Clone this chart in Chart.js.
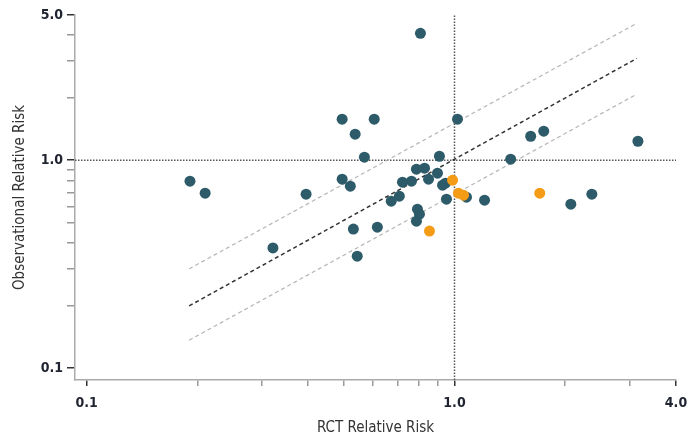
<!DOCTYPE html>
<html>
<head>
<meta charset="utf-8">
<script src="https://cdn.jsdelivr.net/npm/chart.js@4/dist/chart.umd.min.js"></script>
<style>
  html, body { margin: 0; padding: 0; background: #fff; }
</style>
</head>
<body>
<canvas id="riskChart" width="687" height="439"></canvas>
<script>
// RCT relative risk (x) vs observational relative risk (y)
const tealX = [0.191, 0.210, 0.321, 0.395, 0.495, 0.537, 0.605, 0.569, 0.495, 0.521,
               0.808, 1.019, 0.544, 0.531, 0.617, 0.673, 0.708, 0.722, 0.764, 0.788,
               0.829, 0.850, 0.899, 0.910, 0.793, 0.803, 0.788, 0.928, 0.945, 0.951,
               1.078, 1.207, 1.421, 1.611, 1.748, 2.071, 2.362, 3.152];
const tealY = [0.793, 0.694, 0.378, 0.686, 1.575, 1.334, 1.575, 1.034, 0.810, 0.750,
               4.08, 1.575, 0.345, 0.466, 0.476, 0.635, 0.671, 0.784, 0.793, 0.905,
               0.915, 0.810, 0.866, 1.045, 0.581, 0.550, 0.509, 0.758, 0.775, 0.649,
               0.664, 0.642, 1.011, 1.304, 1.379, 0.614, 0.686, 1.234];
const orangeX = [0.988, 1.025, 1.058, 0.855, 1.705];
const orangeY = [0.801, 0.694, 0.679, 0.456, 0.694];

// reference lines
const centerX = [0.19, 3.13];
const centerY = [0.199, 3.09];
const upperY = [0.30, 4.56];
const lowerY = [0.136, 2.08];

const xTicks = [0.1, 0.2, 0.3, 0.4, 0.5, 0.6, 0.7, 0.8, 0.9, 1, 2, 3, 4];
const yTicks = [0.1, 0.2, 0.3, 0.4, 0.5, 0.6, 0.7, 0.8, 0.9, 1, 2, 3, 4, 5];
const xLabels = {0.1: '0.1', 1: '1.0', 4: '4.0'};
const yLabels = {0.1: '0.1', 1: '1.0', 5: '5.0'};

const xMin = 0.093, xMax = 4.0, yMin = 0.0875, yMax = 5.0;

function pts(xs, ys) { return xs.map((x, i) => ({x: x, y: ys[i]})); }

const FONT = "'Liberation Sans Narrow', 'DejaVu Sans Condensed', 'Liberation Sans', sans-serif";

function lineSet(data, color, dash, width) {
  return {
    type: 'line', data: data, borderColor: color, borderDash: dash, borderWidth: width,
    pointRadius: 0, fill: false, showLine: true, order: 5
  };
}

const ctx = document.getElementById('riskChart').getContext('2d');
new Chart(ctx, {
  type: 'scatter',
  data: {
    datasets: [
      { data: pts(orangeX, orangeY), backgroundColor: '#f59c17', pointRadius: 5.5, borderWidth: 0, order: 0 },
      { data: pts(tealX, tealY), backgroundColor: '#2d5b69', pointRadius: 5.5, borderWidth: 0, order: 1 },
      lineSet(pts(centerX, centerY), '#333', [4, 3], 1.5),
      lineSet(pts(centerX, upperY), '#b5b5b5', [4, 3], 1.2),
      lineSet(pts(centerX, lowerY), '#b5b5b5', [4, 3], 1.2),
      lineSet([{x: 1, y: yMin}, {x: 1, y: yMax}], '#555', [1.5, 1.5], 1.5),
      lineSet([{x: xMin, y: 1}, {x: xMax, y: 1}], '#555', [1.5, 1.5], 1.5)
    ]
  },
  options: {
    responsive: false,
    animation: false,
    layout: { padding: { top: 15, right: 0, left: 0, bottom: 0 } },
    plugins: { legend: { display: false }, tooltip: { enabled: false } },
    scales: {
      x: {
        type: 'logarithmic', min: xMin, max: xMax,
        afterBuildTicks: s => { s.ticks = xTicks.map(v => ({value: v})); },
        afterFit: s => { s.height = 59; s.paddingRight = 11; s.paddingLeft = 0; },
        ticks: {
          autoSkip: false, maxRotation: 0, padding: 9, color: '#1f2430',
          font: { family: FONT, size: 14, weight: 'bold' },
          callback: v => xLabels[v] || ''
        },
        grid: {
          drawOnChartArea: false, drawTicks: true, tickLength: 6, lineWidth: 1.5,
          color: c => (c.tick && xLabels[c.tick.value]) ? '#333' : '#999'
        },
        border: { display: true, color: '#aaa', width: 1.5 },
        title: {
          display: true, text: 'RCT Relative Risk', color: '#333',
          font: { family: FONT, size: 15 }, padding: { top: 0, bottom: 2 }
        }
      },
      y: {
        type: 'logarithmic', min: yMin, max: yMax,
        afterBuildTicks: s => { s.ticks = yTicks.map(v => ({value: v})); },
        afterFit: s => { s.width = 75; },
        ticks: {
          autoSkip: false, padding: 4, color: '#1f2430',
          font: { family: FONT, size: 14, weight: 'bold' },
          callback: v => yLabels[v] || ''
        },
        grid: {
          drawOnChartArea: false, drawTicks: true, tickLength: 8, lineWidth: 1.5,
          color: c => (c.tick && yLabels[c.tick.value]) ? '#333' : '#999'
        },
        border: { display: true, color: '#aaa', width: 1.5 },
        title: {
          display: true, text: 'Observational Relative Risk', color: '#333',
          font: { family: FONT, size: 15 }, padding: { top: 11, bottom: 0 }
        }
      }
    }
  }
});
</script>
</body>
</html>
